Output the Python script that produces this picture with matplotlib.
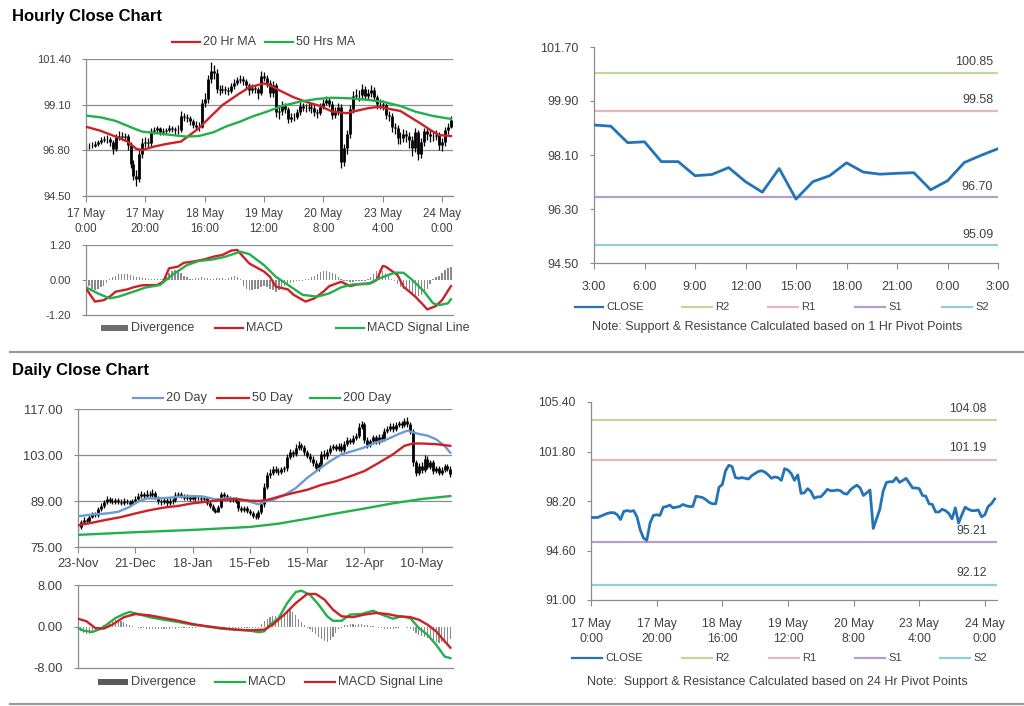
import numpy as np
import matplotlib.pyplot as plt
from matplotlib.lines import Line2D
from matplotlib.patches import Rectangle
from matplotlib.ticker import FormatStrFormatter

plt.rcParams['font.family'] = ['Liberation Sans', 'DejaVu Sans']

# ---------------- hourly data (17 May 0:00 .. 24 May 3:00) ----------------
hourly_close = [
    97.0, 97.0, 97.0, 97.1, 97.2, 97.3, 97.35, 97.35, 97.2, 96.85,
    97.45, 97.5, 97.45, 97.5, 97.05, 96.1, 95.5, 95.35, 96.6, 97.15,
    97.2, 97.15, 97.75, 97.8, 97.9, 97.7, 97.75, 97.8, 97.95, 97.85,
    97.8, 97.8, 98.55, 98.5, 98.45, 98.3, 98.1, 98.0, 98.0, 99.2,
    99.4, 100.4, 100.8, 100.7, 99.9, 99.85, 99.9, 99.85, 99.8, 100.05,
    100.2, 100.35, 100.4, 100.3, 100.1, 99.85, 99.95, 99.9, 99.7, 100.55,
    100.45, 100.2, 99.7, 100.1, 98.75, 98.8, 99.1, 98.9, 98.4, 98.5,
    98.5, 98.75, 99.05, 98.95, 98.95, 99.0, 98.95, 98.75, 98.7, 99.0,
    99.2, 99.35, 99.15, 98.6, 98.8, 99.0, 96.2, 96.9, 97.6, 98.9,
    99.55, 99.6, 99.6, 99.9, 99.55, 99.7, 99.85, 99.5, 99.15, 99.15,
    99.1, 98.6, 98.55, 98.0, 97.95, 97.4, 97.4, 97.6, 97.5, 97.3,
    96.9, 97.7, 96.6, 97.2, 97.75, 97.6, 97.5, 97.5, 97.55, 97.05,
    97.2, 97.8, 98.0, 98.35]
hourly_high = [
    97.15, 97.15, 97.2, 97.25, 97.3, 97.45, 97.5, 97.55, 97.45, 97.3,
    97.6, 97.75, 97.7, 97.65, 97.6, 97.2, 96.3, 95.8, 96.8, 97.4,
    97.45, 97.4, 97.95, 98.0, 98.05, 98.0, 97.9, 97.95, 98.1, 98.05,
    98.0, 98.1, 98.8, 98.7, 98.65, 98.55, 98.4, 98.3, 98.25, 99.4,
    99.7, 100.6, 101.25, 101.1, 100.9, 100.1, 100.1, 100.05, 100.0, 100.2,
    100.4, 100.5, 100.6, 100.55, 100.4, 100.2, 100.15, 100.1, 100.0, 100.8,
    100.75, 100.6, 100.35, 100.3, 100.2, 99.1, 99.3, 99.2, 99.0, 98.7,
    98.7, 98.9, 99.25, 99.2, 99.15, 99.2, 99.2, 99.1, 98.9, 99.2,
    99.4, 99.55, 99.5, 99.3, 99.0, 99.2, 99.15, 97.1, 97.8, 99.1,
    99.8, 99.9, 99.85, 100.15, 100.05, 99.9, 100.1, 100.0, 99.6, 99.4,
    99.35, 99.2, 98.8, 98.7, 98.2, 98.1, 97.7, 97.85, 97.8, 97.7,
    97.5, 97.9, 97.8, 97.4, 97.95, 97.9, 97.8, 97.75, 97.8, 97.7,
    97.4, 98.0, 98.2, 98.55]
hourly_low = [
    96.8, 96.85, 96.9, 96.95, 97.0, 97.1, 97.2, 97.15, 97.0, 96.6,
    96.75, 97.3, 97.3, 97.25, 96.8, 95.9, 95.3, 95.0, 95.2, 96.4,
    96.95, 96.9, 97.0, 97.6, 97.65, 97.55, 97.55, 97.6, 97.7, 97.7,
    97.6, 97.6, 97.7, 98.3, 98.25, 98.1, 97.9, 97.8, 97.75, 97.9,
    99.0, 99.2, 100.2, 100.4, 99.7, 99.6, 99.7, 99.65, 99.6, 99.7,
    99.9, 100.1, 100.2, 100.1, 99.9, 99.6, 99.7, 99.7, 99.4, 99.6,
    100.3, 100.0, 99.5, 99.5, 98.5, 98.4, 98.6, 98.7, 98.2, 98.25,
    98.3, 98.4, 98.6, 98.8, 98.75, 98.8, 98.7, 98.55, 98.45, 98.6,
    98.9, 99.1, 99.0, 98.4, 98.45, 98.6, 95.9, 96.0, 96.6, 97.4,
    98.7, 99.4, 99.3, 99.4, 99.4, 99.4, 99.5, 99.3, 98.9, 98.9,
    98.85, 98.4, 98.3, 97.7, 97.6, 97.1, 97.1, 97.2, 97.2, 96.9,
    96.5, 96.7, 96.3, 96.4, 97.0, 97.3, 97.2, 97.25, 97.3, 96.8,
    96.75, 97.0, 97.6, 97.9]

ma20_x = [0, 5, 10, 14, 17, 19, 23, 27, 32, 35, 38, 42, 46, 51, 55, 60, 62,
          66, 70, 74, 79, 83, 88, 90, 95, 99, 101, 106, 109, 113, 116, 119, 123]
ma20 = [97.99, 97.78, 97.49, 97.24, 96.87, 96.82, 96.99, 97.12, 97.24, 97.57,
        97.91, 98.50, 99.08, 99.59, 99.97, 100.17, 100.07, 99.76, 99.47, 99.25,
        99.03, 98.75, 98.67, 98.75, 98.92, 99.00, 98.92, 98.78, 98.50, 98.13,
        97.83, 97.57, 97.52]
ma50_x = [0, 5, 10, 16, 19, 24, 29, 34, 38, 43, 47, 52, 56, 61, 66, 72, 78,
          83, 89, 95, 100, 106, 111, 117, 123]
ma50 = [98.55, 98.46, 98.28, 97.91, 97.74, 97.66, 97.57, 97.49, 97.52, 97.71,
        97.99, 98.25, 98.50, 98.75, 99.03, 99.25, 99.39, 99.45, 99.42, 99.34,
        99.25, 99.03, 98.75, 98.53, 98.38]

h_macd_x = [0, 3, 6, 8, 10, 14, 16, 19, 24, 26, 28, 31, 33, 36, 40, 43, 46, 49,
            51, 52, 55, 58, 60, 62, 64, 68, 70, 74, 77, 80, 82, 86, 89, 92, 96,
            98, 100, 101, 105, 107, 111, 114, 115, 118, 120, 123]
h_macd = [-0.29, -0.74, -0.69, -0.57, -0.40, -0.32, -0.25, -0.18, -0.17, -0.06,
          0.40, 0.46, 0.59, 0.63, 0.71, 0.80, 0.86, 1.01, 1.03, 0.91,
          0.57, 0.40, 0.29, 0.11, -0.23, -0.32, -0.51, -0.74, -0.63, -0.40,
          -0.21, -0.06, -0.21, -0.14, -0.11, 0.00, 0.48, 0.46, 0.17, -0.23,
          -0.57, -0.89, -1.01, -0.89, -0.69, -0.21]
h_signal_x = [0, 4, 8, 11, 16, 20, 25, 29, 34, 38, 43, 47, 52, 55, 60, 64, 69,
              73, 78, 82, 86, 90, 95, 99, 104, 107, 110, 114, 117, 119, 122, 123]
h_signal = [-0.25, -0.46, -0.63, -0.57, -0.40, -0.26, -0.17, 0.17, 0.51, 0.65,
            0.71, 0.80, 0.97, 0.89, 0.51, 0.11, -0.23, -0.51, -0.57, -0.46,
            -0.25, -0.15, -0.14, 0.06, 0.25, 0.25, 0.00, -0.40, -0.80, -0.86,
            -0.80, -0.66]
h_div = [-0.1, -0.2, -0.3, -0.35, -0.3, -0.25, -0.2, -0.1,
         0.05, 0.1, 0.15, 0.2, 0.22, 0.22, 0.2, 0.18, 0.15, 0.12, 0.1, 0.08, 0.06,
         0.05, 0.05, 0.04, 0.04, 0.05, 0.05,
         0.15, 0.25, 0.3, 0.35, 0.3, 0.25, 0.15, 0.1,
         0.05, 0.05, 0.06, 0.08, 0.1, 0.08, 0.06, 0.05, 0.05, 0.06, 0.08, 0.06,
         0.05, 0.08, 0.12, 0.15, 0.1, 0.05,
         -0.2, -0.3, -0.35, -0.35, -0.3, -0.3, -0.25, -0.2, -0.25, -0.3, -0.35,
         -0.4, -0.35, -0.3,
         -0.2, -0.15, -0.1, -0.08, -0.05, -0.03, -0.02, 0.02, 0.05, 0.1,
         0.15, 0.22, 0.28, 0.3, 0.3, 0.28, 0.25, 0.2, 0.12, 0.05, -0.02,
         -0.05, -0.08, -0.06, -0.05, -0.04, -0.03, -0.02, 0.02,
         0.1, 0.2, 0.3, 0.35, 0.3, 0.25, 0.15, 0.05,
         -0.05, -0.15, -0.25, -0.3, -0.35, -0.4, -0.45, -0.5, -0.55, -0.5, -0.4,
         -0.3, -0.15,
         0.02, 0.1, 0.15, 0.25, 0.35, 0.4, 0.45]
hour_tick_pos = [0, 20, 40, 60, 80, 100, 120]
hour_tick_labels = ['17 May\n0:00', '17 May\n20:00', '18 May\n16:00', '19 May\n12:00',
                    '20 May\n8:00', '23 May\n4:00', '24 May\n0:00']

# last 24 hours, 1 hr pivots
close_24h = [99.10, 99.06, 98.51, 98.54, 97.88, 97.88, 97.41, 97.45, 97.68, 97.21,
             96.86, 97.65, 96.63, 97.21, 97.41, 97.84, 97.53, 97.46, 97.49, 97.51,
             96.94, 97.24, 97.85, 98.09, 98.31]
labels_24h = ['3:00', '6:00', '9:00', '12:00', '15:00', '18:00', '21:00', '0:00', '3:00']
pivots_1h = [100.85, 99.58, 96.70, 95.09]
pivots_24h = [104.08, 101.19, 95.21, 92.12]
pivot_names = ['R2', 'R1', 'S1', 'S2']

# ---------------- daily data (23-Nov .. 24-May) ----------------
daily_close = [
    81.0, 82.5, 83.2, 83.0, 84.2, 85.0, 84.6, 86.5, 87.5, 88.6,
    89.5, 89.0, 88.6, 89.2, 88.8, 88.4, 89.0, 88.7, 88.2, 88.9,
    89.6, 90.4, 91.0, 90.6, 91.2, 90.8, 91.5, 90.2, 89.0, 88.6,
    89.4, 88.3, 88.9, 89.2, 90.8, 91.0, 90.5, 90.0, 90.2, 89.7,
    90.1, 89.8, 90.0, 89.6, 89.9, 88.4, 87.6, 86.4, 85.8, 87.2,
    91.2, 90.5, 89.8, 89.2, 89.6, 88.9, 86.8, 86.2, 86.9, 85.9,
    85.4, 84.5, 84.2, 85.6, 88.0, 93.4, 96.8, 97.4, 98.8, 98.2,
    97.8, 98.6, 98.9, 102.5, 103.8, 103.2, 105.2, 106.0, 105.4, 103.9,
    102.8, 101.8, 100.6, 98.9, 100.2, 103.4, 102.6, 104.0, 105.1, 105.6,
    104.9, 105.8, 104.6, 106.4, 107.5, 107.0, 108.2, 108.9, 111.6, 112.4,
    107.6, 106.0, 107.2, 108.4, 107.0, 108.6, 107.8, 110.4, 111.0, 111.8,
    110.9, 112.2, 112.6, 112.0, 113.2, 112.4, 110.2, 100.8, 97.4, 99.8,
    98.5, 101.9, 99.4, 100.8, 98.2, 98.9, 97.6, 98.4, 99.6, 98.8,
    97.2]
daily_high = [
    82.2, 83.2, 84.0, 83.9, 85.0, 85.8, 85.7, 87.2, 88.3, 89.4,
    90.6, 90.2, 89.8, 90.0, 89.9, 89.5, 89.8, 89.6, 89.4, 89.7,
    90.4, 91.3, 92.0, 91.6, 92.2, 92.0, 92.6, 91.9, 90.6, 89.6,
    90.2, 90.0, 89.8, 90.0, 91.6, 91.8, 91.6, 91.0, 91.0, 90.9,
    90.9, 90.8, 90.9, 90.7, 90.6, 90.2, 89.0, 88.0, 86.8, 87.8,
    91.8, 91.6, 91.0, 90.4, 90.3, 90.2, 89.4, 87.4, 87.6, 87.4,
    86.6, 86.0, 85.2, 86.3, 88.8, 94.5, 97.8, 98.6, 99.8, 99.6,
    99.0, 99.4, 99.8, 103.4, 104.8, 104.6, 106.2, 107.2, 106.8, 106.0,
    104.6, 103.6, 102.6, 101.4, 101.0, 104.2, 104.4, 104.8, 106.0, 106.4,
    106.4, 106.6, 106.6, 107.2, 108.4, 108.2, 109.0, 109.8, 112.6, 113.4,
    113.0, 108.6, 108.0, 109.2, 109.0, 109.4, 109.4, 111.2, 111.8, 112.6,
    112.6, 113.0, 113.4, 113.4, 114.2, 114.6, 113.0, 111.0, 101.6, 100.6,
    100.8, 103.0, 102.6, 101.6, 101.6, 99.8, 99.6, 99.2, 100.4, 100.2,
    99.6]
daily_low = [
    79.8, 80.6, 82.0, 82.4, 82.6, 83.8, 84.0, 84.2, 86.0, 87.0,
    88.2, 88.3, 88.0, 88.0, 88.2, 87.8, 87.9, 88.0, 87.6, 87.8,
    88.4, 89.2, 90.0, 90.0, 90.2, 90.2, 90.3, 89.6, 88.2, 87.9,
    88.0, 87.6, 87.8, 88.2, 88.8, 90.1, 89.9, 89.3, 89.3, 89.0,
    89.2, 89.0, 89.2, 88.9, 89.0, 87.8, 87.0, 86.0, 85.2, 85.6,
    86.8, 90.0, 89.2, 88.6, 88.7, 88.3, 86.0, 85.6, 85.8, 85.2,
    84.7, 83.8, 83.4, 83.6, 85.0, 87.2, 92.6, 96.0, 96.8, 97.4,
    96.9, 97.2, 97.9, 98.2, 101.8, 102.4, 102.6, 104.6, 104.6, 103.0,
    102.0, 101.0, 99.8, 98.0, 98.2, 99.4, 101.8, 101.8, 103.4, 104.4,
    104.2, 104.2, 103.8, 104.0, 105.6, 106.2, 106.4, 107.6, 108.2, 110.8,
    106.8, 105.2, 105.4, 106.4, 106.2, 106.2, 107.0, 107.2, 109.8, 110.2,
    110.0, 110.2, 111.6, 111.2, 111.4, 111.6, 109.4, 99.8, 96.6, 96.8,
    97.6, 97.8, 98.6, 98.6, 97.2, 97.6, 96.8, 96.8, 97.8, 98.0,
    96.4]

d_ma20_x = [0, 5, 10, 14, 18, 21, 24, 28, 32, 36, 40, 44, 48, 52, 56, 60, 63, 65,
            68, 72, 76, 80, 84, 88, 92, 96, 100, 104, 108, 112, 115, 117, 119,
            122, 125, 128, 130]
d_ma20 = [84.35, 84.9, 85.2, 85.7, 87.2, 88.8, 89.8, 89.8, 90.0, 90.3,
          90.5, 90.3, 89.5, 89.8, 89.6, 88.8, 88.0, 88.8, 89.3, 90.8,
          92.9, 96.0, 98.6, 101.1, 103.2, 104.2, 105.3, 106.8, 107.8, 109.4,
          110.4, 109.9, 109.4, 108.9, 107.8, 105.8, 103.7]
d_ma50_x = [0, 5, 10, 15, 20, 25, 30, 35, 40, 45, 50, 55, 60, 63, 66, 70, 75,
            80, 85, 90, 95, 100, 105, 110, 114, 117, 120, 125, 130]
d_ma50 = [81.6, 82.4, 83.3, 84.1, 85.2, 86.2, 87.0, 87.5, 88.3, 88.8,
          89.3, 89.6, 89.1, 89.0, 89.3, 90.3, 91.4, 92.4, 93.9, 95.0,
          96.5, 98.1, 100.6, 103.2, 105.8, 106.5, 106.5, 106.3, 105.8]
d_ma200_x = [0, 20, 40, 60, 70, 80, 90, 100, 110, 120, 130]
d_ma200 = [78.7, 79.5, 80.2, 81.1, 82.1, 83.6, 85.2, 86.7, 88.3, 89.6, 90.5]

d_macd_x = [0, 2, 5, 8, 10, 13, 16, 18, 21, 25, 30, 35, 40, 45, 50, 55, 60, 63,
            65, 67, 70, 73, 76, 78, 81, 84, 87, 89, 92, 95, 99, 103, 106, 110,
            113, 116, 119, 122, 125, 128, 130]
d_macd = [-0.3, -0.8, -1.06, -0.42, 0.35, 1.6, 2.4, 2.8, 2.4, 1.8,
          1.3, 0.87, 0.35, 0.03, -0.42, -0.6, -0.8, -1.1, -0.93, 0.35,
          1.6, 4.5, 6.65, 6.9, 6.1, 4.2, 1.96, 1.1, 1.1, 2.3,
          2.4, 3.05, 2.3, 1.5, 1.96, 1.6, -0.3, -1.6, -3.5, -5.8, -6.1]
d_signal_x = [0, 3, 6, 9, 12, 16, 20, 25, 30, 35, 40, 45, 50, 55, 60, 65, 68,
              72, 76, 80, 83, 86, 89, 92, 96, 100, 104, 108, 112, 116, 119, 122,
              125, 128, 130]
d_signal = [1.5, 1.0, -0.3, -0.4, 0.35, 1.8, 2.4, 2.15, 1.64, 1.1,
            0.48, 0.03, -0.3, -0.6, -0.74, -0.6, 0.35, 2.3, 4.5, 6.27,
            6.27, 5.2, 3.25, 1.96, 1.8, 2.3, 2.6, 2.4, 1.96, 1.8,
            1.3, 0.35, -0.93, -2.86, -4.1]
d_div = [-0.6, -0.9, -1.2, -1.4, -1.5, -1.3, -1.0,
         -0.6, -0.3, 0.2, 0.5, 0.8,
         1.0, 1.2, 1.2, 1.0, 0.8, 0.5,
         0.3, 0.1, -0.1, -0.2, -0.3,
         -0.35, -0.4, -0.45, -0.4, -0.45, -0.5, -0.45, -0.5, -0.4, -0.45, -0.35,
         -0.4, -0.3, -0.35, -0.3, -0.25, -0.3, -0.2, -0.2, -0.15, -0.15, -0.1, -0.1,
         -0.1, -0.15, -0.2, -0.2, -0.25, -0.2, -0.15, -0.2, -0.25, -0.2, -0.2,
         -0.25, -0.3, -0.25, -0.3, -0.3, -0.35, -0.3,
         0.5, 1.0, 1.5, 1.8, 2.0, 2.0, 1.8, 2.2,
         2.6, 3.0, 3.2, 2.8, 2.2, 1.5,
         0.8, 0.3, -0.2, -0.5,
         -1.0, -1.5, -2.0, -2.4, -2.8, -3.0, -2.6, -2.0, -1.2,
         -0.5, -0.2, 0.2, 0.3, 0.4, 0.4, 0.35,
         0.4, 0.5, 0.3, 0.2, 0.1, 0.05, -0.1, -0.2,
         -0.3, -0.4, -0.5, -0.5, -0.4, -0.3, -0.2, -0.15, -0.1, -0.2,
         -0.4, -0.8, -1.2, -1.6, -1.8, -2.0, -2.2, -2.6, -2.8, -3.0, -3.2, -3.0,
         -2.8, -3.1, -2.5]
day_tick_pos = [0, 20, 40, 60, 80, 100, 120]
day_tick_labels = ['23-Nov', '21-Dec', '18-Jan', '15-Feb', '15-Mar', '12-Apr', '10-May']

# ---------------- style ----------------
W, H = 1024, 706
TXT = '#404040'
AXC = '#8c8c8c'
RED = '#cc2127'
GREEN = '#21b04b'
LBLUE = '#6b9bd1'
BLUE = '#2473b8'
DIVC = '#8a8a8a'
PIVC = ['#c4d79b', '#e6b8b7', '#b1a0c7', '#92cddc']

fig = plt.figure(figsize=(W / 100, H / 100), dpi=100)


def add_ax(l, t, r, b):
    return fig.add_axes([l / W, 1 - b / H, (r - l) / W, (b - t) / H])


def frame(ax, yticks, fs, grid=True):
    ax.set_ylim(yticks[0], yticks[-1])
    ax.set_yticks(yticks)
    ax.yaxis.set_major_formatter(FormatStrFormatter('%.2f'))
    for s in ('top', 'right'):
        ax.spines[s].set_visible(False)
    for s in ('left', 'bottom'):
        ax.spines[s].set_color(AXC)
        ax.spines[s].set_linewidth(0.9)
    ax.tick_params(axis='y', length=3, pad=8, labelsize=fs, colors=TXT, color=AXC)
    ax.tick_params(axis='x', length=4, labelsize=fs, colors=TXT, color=AXC)
    if grid:
        ax.grid(axis='y', color=AXC, lw=0.9)
    ax.set_axisbelow(True)


def candles(ax, close, high, low):
    close = np.asarray(close)
    x = np.arange(len(close))
    opn = np.r_[close[0], close[:-1]]
    ax.vlines(x, low, high, color='black', lw=0.9, zorder=2)
    ax.vlines(x, np.minimum(opn, close), np.maximum(opn, close), color='black', lw=2.0, zorder=2)


def key(x, y, label, color, fs, kind='line', ln=28):
    if kind == 'line':
        fig.add_artist(Line2D([x / W, (x + ln) / W], [1 - y / H] * 2, color=color, lw=1.6))
    else:
        fig.add_artist(Rectangle((x / W, 1 - (y + 3) / H), ln / W, 6 / H, color=color, lw=0))
    fig.text((x + ln + 3) / W, 1 - y / H, label, fontsize=fs, color=TXT, va='center')


def pivots(ax, levels, fs, xfrac, off):
    for lvl, c in zip(levels, PIVC):
        ax.axhline(lvl, color=c, lw=1.6, zorder=1)
        ax.annotate(f'{lvl:.2f}', xy=(xfrac, lvl), xycoords=('axes fraction', 'data'),
                    xytext=(0, off), textcoords='offset points', ha='right', va='bottom',
                    fontsize=fs, color=TXT)


# titles and separators
fig.text(12 / W, 1 - 16 / H, 'Hourly Close Chart', fontsize=12, fontweight='bold', va='center')
fig.text(12 / W, 1 - 370 / H, 'Daily Close Chart', fontsize=12, fontweight='bold', va='center')
for yy in (352, 704):
    fig.add_artist(Line2D([10 / W, 1], [1 - yy / H] * 2, color='#9a9a9a', lw=1.6))

# ---- hourly candles ----
ax1 = add_ax(86, 59, 453, 196)
candles(ax1, hourly_close, hourly_high, hourly_low)
ax1.plot(ma20_x, ma20, color=RED, lw=1.7, zorder=3)
ax1.plot(ma50_x, ma50, color=GREEN, lw=1.7, zorder=3)
frame(ax1, [94.5, 96.8, 99.1, 101.4], 8)
ax1.set_xlim(0, 123.7)
ax1.set_xticks(hour_tick_pos)
ax1.set_xticklabels(hour_tick_labels, fontsize=8.3, linespacing=1.3)
ax1.tick_params(axis='x', pad=5)
key(172, 42, '20 Hr MA', RED, 9)
key(265, 42, '50 Hrs MA', GREEN, 9)

# ---- hourly MACD ----
ax2 = add_ax(86, 245, 453, 315)
ax2.bar(np.arange(len(h_div)), h_div, width=0.45, color=DIVC, zorder=1)
ax2.plot(h_macd_x, h_macd, color=RED, lw=1.7, zorder=3)
ax2.plot(h_signal_x, h_signal, color=GREEN, lw=1.7, zorder=3)
frame(ax2, [-1.2, 0.0, 1.2], 8, grid=False)
ax2.axhline(1.2, color=AXC, lw=0.9)
ax2.set_xlim(0, 123.7)
ax2.set_xticks([])
key(101, 328, 'Divergence', '#6e6e6e', 9, kind='box', ln=27)
key(215, 328, 'MACD', RED, 9)
key(336, 328, 'MACD Signal Line', GREEN, 9)

# ---- 1 hr pivot chart ----
ax3 = add_ax(594, 47, 998, 263)
pivots(ax3, pivots_1h, 9, 0.988, 3)
ax3.plot(np.arange(len(close_24h)), close_24h, color=BLUE, lw=2, zorder=3)
frame(ax3, [94.5, 96.3, 98.1, 99.9, 101.7], 9, grid=False)
ax3.set_xlim(0, 24)
ax3.set_xticks(range(0, 25, 3))
ax3.set_xticklabels(labels_24h)
ax3.tick_params(axis='x', pad=9)
key(575, 307, 'CLOSE', BLUE, 8, ln=28)
for xk, name, c in zip([682, 768, 855, 942], pivot_names, PIVC):
    key(xk, 307, name, c, 8, ln=30)
fig.text(777 / W, 1 - 327 / H, 'Note: Support & Resistance Calculated based on 1 Hr Pivot Points',
         fontsize=9, color=TXT, ha='center', va='center')

# ---- daily candles ----
ax4 = add_ax(78, 409, 452, 547)
candles(ax4, daily_close, daily_high, daily_low)
ax4.plot(d_ma20_x, d_ma20, color=LBLUE, lw=1.7, zorder=3)
ax4.plot(d_ma50_x, d_ma50, color=RED, lw=1.7, zorder=3)
ax4.plot(d_ma200_x, d_ma200, color=GREEN, lw=1.7, zorder=3)
frame(ax4, [75, 89, 103, 117], 9.3)
ax4.set_xlim(0, 130.6)
ax4.set_xticks(day_tick_pos)
ax4.set_xticklabels(day_tick_labels)
ax4.tick_params(axis='x', pad=4)
key(133, 398, '20 Day', LBLUE, 9.3, ln=30)
key(217, 398, '50 Day', RED, 9.3, ln=32)
key(310, 398, '200 Day', GREEN, 9.3, ln=30)

# ---- daily MACD ----
ax5 = add_ax(78, 585, 453, 668)
ax5.bar(np.arange(len(d_div)), d_div, width=0.4, color=DIVC, zorder=1)
ax5.plot(d_macd_x, d_macd, color=GREEN, lw=1.7, zorder=3)
ax5.plot(d_signal_x, d_signal, color=RED, lw=1.7, zorder=3)
frame(ax5, [-8.0, 0.0, 8.0], 9.3, grid=False)
ax5.axhline(8.0, color=AXC, lw=0.9)
ax5.set_xlim(0, 130.9)
ax5.set_xticks([])
key(98, 682, 'Divergence', '#5a5a5a', 9.3, kind='box', ln=30)
key(215, 682, 'MACD', GREEN, 9.3, ln=30)
key(305, 682, 'MACD Signal Line', RED, 9.3, ln=30)

# ---- 24 hr pivot chart ----
ax6 = add_ax(591, 402, 997, 600)
pivots(ax6, pivots_24h, 8.8, 0.975, 4)
ax6.plot(np.arange(len(hourly_close)), hourly_close, color=BLUE, lw=2, zorder=3)
frame(ax6, [91.0, 94.6, 98.2, 101.8, 105.4], 8.7, grid=False)
ax6.set_xlim(0, 123.7)
ax6.set_xticks(hour_tick_pos)
ax6.set_xticklabels(hour_tick_labels, linespacing=1.3)
ax6.tick_params(axis='x', pad=9)
key(572, 658, 'CLOSE', BLUE, 8, ln=30)
for xk, name, c in zip([682, 769, 855, 940], pivot_names, PIVC):
    key(xk, 658, name, c, 8, ln=30)
fig.text(777 / W, 1 - 682 / H, 'Note:  Support & Resistance Calculated based on 24 Hr Pivot Points',
         fontsize=9, color=TXT, ha='center', va='center')

fig.savefig('out.png', dpi=100, facecolor='white')
